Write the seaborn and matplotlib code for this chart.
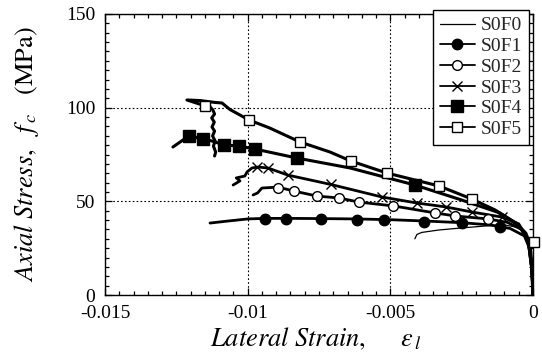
import matplotlib
matplotlib.use("Agg")
import numpy as np
import pandas as pd
import matplotlib.pyplot as plt
import seaborn as sns
from matplotlib.lines import Line2D
from matplotlib.ticker import MultipleLocator, FixedLocator, FixedFormatter

# ---- measured curves: lateral strain vs axial stress (MPa) ----
s0f0_x = [-0.00414, -0.00407, -0.0039, -0.0033, -0.0025, -0.0017, -0.0010,
          -0.0005, -0.00022, -0.0001, -0.00003, 0.0]
s0f0_y = [30.0, 32.3, 33.4, 34.7, 35.8, 36.8, 37.4, 36.0, 31.0, 22.0, 10.0, 0.0]

s0f1_x = [-0.01132, -0.0108, -0.0100, -0.0094, -0.0085, -0.0075, -0.0062,
          -0.0050, -0.0038, -0.0025, -0.0015, -0.0008, -0.0003, -0.0001,
          -0.00003, 0.0]
s0f1_y = [38.4, 39.3, 40.6, 40.9, 40.9, 40.8, 40.6, 40.2, 39.5, 38.6, 37.4,
          35.5, 31.5, 24.0, 11.0, 0.0]
s0f1_mx = [-0.00939, -0.00866, -0.00743, -0.00617, -0.00522, -0.00382,
           -0.00249, -0.00116]
s0f1_my = [40.6, 40.6, 40.4, 40.2, 39.8, 39.2, 38.4, 36.2]

s0f2_x = [-0.00981, -0.00965, -0.0095, -0.00894, -0.00838, -0.00757, -0.0068,
          -0.0061, -0.00487, -0.00343, -0.00273, -0.00158, -0.0009, -0.0004,
          -0.00015, -0.00004, 0.0]
s0f2_y = [53.4, 54.5, 57.1, 57.6, 55.5, 52.8, 51.8, 49.6, 47.5, 43.8, 42.2,
          40.6, 38.8, 35.0, 27.0, 13.0, 0.0]
s0f2_mx = [-0.00894, -0.00838, -0.00757, -0.0068, -0.0061, -0.0049,
           -0.00343, -0.00273, -0.00158]
s0f2_my = [57.1, 55.5, 52.8, 51.8, 49.6, 47.5, 43.8, 42.2, 40.6]

s0f3_x = [-0.01051, -0.01027, -0.01040, -0.01010, -0.01002, -0.00985,
          -0.00964, -0.00929, -0.00859, -0.00708, -0.00529, -0.00407,
          -0.00305, -0.00214, -0.00109, -0.0005, -0.00018, -0.00005, 0.0]
s0f3_y = [58.7, 60.9, 62.5, 63.5, 65.7, 67.8, 68.3, 67.8, 64.0, 59.0, 52.3,
          49.1, 47.0, 44.3, 41.6, 38.0, 30.0, 15.0, 0.0]
s0f3_mx = [-0.00967, -0.00929, -0.00859, -0.00708, -0.00529, -0.00407,
           -0.00305, -0.00214, -0.00109]
s0f3_my = [68.3, 67.8, 64.0, 59.0, 52.3, 49.1, 47.0, 44.3, 41.6]

s0f4_x = [-0.01262, -0.01227, -0.01206, -0.01157, -0.01125, -0.01083,
          -0.0103, -0.00974, -0.00827, -0.00641, -0.00414, -0.00256,
          -0.00116, -0.0005, -0.00018, -0.00005, 0.0]
s0f4_y = [79.0, 82.7, 84.9, 83.3, 82.2, 80.1, 79.5, 77.9, 73.1, 67.8, 58.7,
          51.0, 43.8, 37.0, 30.0, 15.0, 0.0]
s0f4_mx = [-0.01206, -0.01157, -0.01083, -0.0103, -0.00974, -0.00827,
           -0.00414]
s0f4_my = [84.9, 83.3, 80.1, 79.5, 77.9, 73.1, 58.7]

s0f5_x = [0.0, -0.00003, -0.0001, -0.00025, -0.0006, -0.00133, -0.00214,
          -0.00329, -0.00414, -0.00512, -0.00638, -0.00711, -0.00817,
          -0.00922, -0.00995, -0.01062, -0.0109, -0.01115, -0.01167,
          -0.01213, -0.0117, -0.01135, -0.01122, -0.01116, -0.01126,
          -0.01117, -0.01125, -0.01116, -0.01123, -0.01114, -0.0112,
          -0.01112, -0.01116]
s0f5_y = [0.0, 14.0, 27.0, 33.0, 38.5, 45.4, 51.2, 58.2, 61.4, 65.1, 71.5,
          76.3, 81.7, 89.1, 93.4, 99.0, 102.5, 102.8, 103.8, 104.1, 102.0,
          101.0, 98.8, 96.6, 94.5, 92.3, 89.7, 87.5, 84.9, 82.2, 79.5, 76.3,
          74.2]
s0f5_mx = [-0.0115, -0.00995, -0.00817, -0.00638, -0.00512, -0.00329,
           -0.00214, 0.00004]
s0f5_my = [100.9, 93.4, 81.7, 71.5, 65.1, 58.2, 51.2, 28.3]

x_ticks = [-0.015, -0.01, -0.005, 0.0]
x_tick_labels = ["-0.015", "-0.01", "-0.005", "0"]
y_ticks = [0, 50, 100, 150]
y_tick_labels = ["0", "50", "100", "150"]

sns.set_theme(style="ticks")
plt.rcParams["font.family"] = ["Liberation Serif", "DejaVu Serif"]
plt.rcParams["mathtext.fontset"] = "stix"
plt.rcParams["axes.unicode_minus"] = False

fig = plt.figure(figsize=(5.42, 3.56), dpi=100)
fig.patch.set_facecolor("white")
ax = fig.add_axes([105 / 542, 1 - 295 / 356, 428 / 542, 281 / 356])
ax.set_facecolor("white")

series = [
    ("S0F0", s0f0_x, s0f0_y, None, None, None, 0.9),
    ("S0F1", s0f1_x, s0f1_y, s0f1_mx, s0f1_my, ("o", "black", 7.5), 2.0),
    ("S0F2", s0f2_x, s0f2_y, s0f2_mx, s0f2_my, ("o", "white", 7.0), 2.0),
    ("S0F3", s0f3_x, s0f3_y, s0f3_mx, s0f3_my, ("x", "black", 7.5), 2.0),
    ("S0F4", s0f4_x, s0f4_y, s0f4_mx, s0f4_my, ("s", "black", 8.0), 2.2),
    ("S0F5", s0f5_x, s0f5_y, s0f5_mx, s0f5_my, ("s", "white", 7.0), 2.2),
]

handles = []
for name, xs, ys, mx, my, mstyle, lw in series:
    df = pd.DataFrame({"strain": xs, "stress": ys})
    sns.lineplot(data=df, x="strain", y="stress", sort=False, estimator=None,
                 color="black", linewidth=lw, ax=ax, zorder=2)
    if mstyle is not None:
        mk, fc, ms = mstyle
        ax.plot(mx, my, linestyle="none", marker=mk, markersize=ms,
                markerfacecolor=fc, markeredgecolor="black",
                markeredgewidth=1.0, zorder=3, clip_on=False)
        handles.append(Line2D([], [], color="black", linewidth=1.3, marker=mk,
                              markersize=ms, markerfacecolor=fc,
                              markeredgecolor="black", markeredgewidth=1.0,
                              label=name))
    else:
        handles.append(Line2D([], [], color="black", linewidth=lw, label=name))

ax.set_xlim(-0.015, 0.0)
ax.set_ylim(0, 150)
ax.xaxis.set_major_locator(FixedLocator(x_ticks))
ax.xaxis.set_major_formatter(FixedFormatter(x_tick_labels))
ax.yaxis.set_major_locator(FixedLocator(y_ticks))
ax.yaxis.set_major_formatter(FixedFormatter(y_tick_labels))
ax.xaxis.set_minor_locator(MultipleLocator(0.0005))
ax.yaxis.set_minor_locator(MultipleLocator(5))

ax.tick_params(which="both", direction="in", top=True, right=True,
               color="black", width=0.9, labelcolor="black", labelsize=14)
ax.tick_params(which="major", length=5)
ax.tick_params(which="minor", length=3)
ax.tick_params(axis="x", pad=7.4)
ax.tick_params(axis="y", pad=7)
for sp in ax.spines.values():
    sp.set_color("black")
    sp.set_linewidth(1.0)
    sp.set_visible(True)

ax.grid(True, which="major", color="black", linestyle=(0, (1.5, 2.0)),
        linewidth=0.8)
ax.set_axisbelow(True)

ax.set_xlabel(r"$\it{Lateral\ Strain,}\quad\ \ \varepsilon_{\,l}$",
              fontsize=19, color="black")
ax.set_ylabel(r"$\it{Axial\ Stress,}\ \ f_{\,c}\ \ \ \mathrm{(MPa)}$",
              fontsize=19, color="black")
ax.xaxis.set_label_coords(0.493, -0.11)
ax.yaxis.set_label_coords(-0.15, 0.5)

leg = ax.legend(handles=handles, loc="upper right",
                bbox_to_anchor=(529 / 542, 1 - 10 / 356),
                bbox_transform=fig.transFigure, borderaxespad=0.0,
                fontsize=14, frameon=True, fancybox=False, shadow=False,
                handlelength=1.8, handletextpad=0.3, labelspacing=0.16,
                borderpad=0.35)
leg.get_frame().set_edgecolor("black")
leg.get_frame().set_linewidth(1.0)
leg.get_frame().set_facecolor("white")
leg.get_frame().set_alpha(1.0)
leg.set_zorder(5)

fig.savefig("out.png", dpi=100, facecolor="white")
